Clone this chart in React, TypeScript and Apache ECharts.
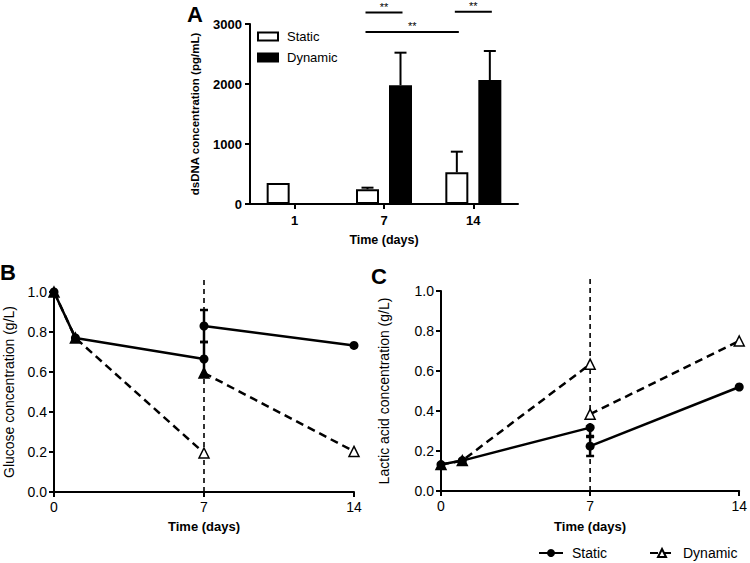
import React, { useEffect, useRef } from "react";
import * as echarts from "echarts";

const FONT = '"Liberation Sans", Arial, Helvetica, sans-serif';

// Panel A: dsDNA concentration
const days = ["1", "7", "14"];
const dnaStatic = [350, 245, 528];
const dnaStaticErr = [0, 27, 344];
const dnaDynamic: (number | string)[] = ["-", 1978, 2067];
const dnaDynamicErr = [0, 544, 483];

// significance brackets (panel A)
const sigFromDay = ["7", "7", "14"];
const sigFromGroup = ["Static", "Static", "Static"];
const sigToDay = ["7", "14", "14"];
const sigToGroup = ["Dynamic", "Static", "Dynamic"];
const sigLevel = [3190, 2867, 3205];
const sigLabel = ["**", "**", "**"];

// Panel B: glucose (g/L)
const glucoseStaticA = [[0, 1.0], [1, 0.77], [7, 0.665]];
const glucoseStaticB = [[7, 0.83], [14, 0.733]];
const glucoseDynamicA = [[0, 1.0], [1, 0.77], [7, 0.195]];
const glucoseDynamicB = [[7, 0.595], [14, 0.203]];
const glucoseErr = [[7, 0.75, 0.91], [7, 0.58, 0.75]];

// Panel C: lactic acid (g/L)
const lacticStaticA = [[0, 0.132], [1, 0.152], [7, 0.317]];
const lacticStaticB = [[7, 0.224], [14, 0.52]];
const lacticDynamicA = [[0, 0.132], [1, 0.152], [7, 0.634]];
const lacticDynamicB = [[7, 0.384], [14, 0.75]];
const lacticErr = [[7, 0.27, 0.317], [7, 0.175, 0.275]];

// reference (medium change) line
const refDay = 7;
const refTop = 1.06;

// style flags: which dynamic markers look filled
const glucoseDynAFilled = [true, true, false];
const glucoseDynBFilled = [true, false];
const lacticDynAFilled = [true, true, false];
const lacticDynBFilled = [false, false];

const BAR_W = 23;
const BAR_GAP_PX = 10;
const OFFSET = (BAR_W + BAR_GAP_PX) / 2;
const groupSign = (g: string) => (g === "Static" ? -1 : 1);

export default function App() {
  const ref = useRef<HTMLDivElement>(null);

  useEffect(() => {
    if (!ref.current) return;
    const chart = echarts.init(ref.current, undefined, { renderer: "svg" });

    const axisLine = { show: true, lineStyle: { color: "#000", width: 2 } };
    const axisTick = { show: true, inside: false, length: 5, lineStyle: { color: "#000", width: 2 } };

    const errBarSeries = (idx: number, data: number[][]) => ({
      type: "custom",
      xAxisIndex: idx,
      yAxisIndex: idx,
      clip: false,
      z: 3,
      data,
      encode: { x: 0, y: [1, 2] },
      renderItem: (params: any, api: any) => {
        const x = api.value(0);
        const p1 = api.coord([x, api.value(1)]);
        const p2 = api.coord([x, api.value(2)]);
        const c = 4;
        const st = { stroke: "#000", lineWidth: 2.5 };
        return {
          type: "group",
          children: [
            { type: "line", shape: { x1: p1[0], y1: p1[1], x2: p2[0], y2: p2[1] }, style: st },
            { type: "line", shape: { x1: p1[0] - c, y1: p1[1], x2: p1[0] + c, y2: p1[1] }, style: st },
            { type: "line", shape: { x1: p2[0] - c, y1: p2[1], x2: p2[0] + c, y2: p2[1] }, style: st },
          ],
        };
      },
    });

    const refLineSeries = (idx: number) => ({
      type: "custom",
      xAxisIndex: idx,
      yAxisIndex: idx,
      clip: false,
      z: 1,
      data: [[refDay, 0, refTop]],
      encode: { x: 0, y: [1, 2] },
      renderItem: (params: any, api: any) => {
        const p1 = api.coord([api.value(0), api.value(1)]);
        const p2 = api.coord([api.value(0), api.value(2)]);
        return {
          type: "line",
          shape: { x1: p1[0], y1: p1[1], x2: p2[0], y2: p2[1] },
          style: { stroke: "#000", lineWidth: 1.6, lineDash: [5, 4] },
        };
      },
    });

    const staticLine = (idx: number, data: number[][]) => ({
      name: "Static",
      type: "line",
      xAxisIndex: idx,
      yAxisIndex: idx,
      data,
      symbol: "circle",
      symbolSize: 9,
      z: 4,
      lineStyle: { color: "#000", width: 2.5, type: "solid" },
      itemStyle: { color: "#000", borderColor: "#000", borderWidth: 0 },
    });

    const dynamicLine = (idx: number, data: number[][], filled: boolean[]) => ({
      name: "Dynamic",
      type: "line",
      xAxisIndex: idx,
      yAxisIndex: idx,
      data: data.map((d, i) => ({
        value: d,
        itemStyle: { color: filled[i] ? "#000" : "#fff", borderColor: "#000", borderWidth: 1.5 },
      })),
      symbol: "triangle",
      symbolSize: 10,
      z: 5,
      lineStyle: { color: "#000", width: 2.5, type: [8, 5] },
      itemStyle: { color: "#fff", borderColor: "#000", borderWidth: 1.5 },
    });

    const lineXAxis = (idx: number, nameGap: number) => ({
      type: "value",
      gridIndex: idx,
      min: 0,
      max: 14,
      interval: 7,
      name: "Time (days)",
      nameLocation: "middle",
      nameGap,
      nameTextStyle: { fontFamily: FONT, fontSize: 13, fontWeight: "bold", color: "#000" },
      axisLine,
      axisTick,
      splitLine: { show: false },
      axisLabel: { fontFamily: FONT, fontSize: 14, color: "#000", margin: 8 },
    });

    const lineYAxis = (idx: number, name: string, nameGap: number) => ({
      type: "value",
      gridIndex: idx,
      min: 0,
      max: 1,
      interval: 0.2,
      name,
      nameLocation: "middle",
      nameGap,
      nameTextStyle: { fontFamily: FONT, fontSize: 14, color: "#000" },
      axisLine,
      axisTick,
      splitLine: { show: false },
      axisLabel: {
        fontFamily: FONT,
        fontSize: 14,
        color: "#000",
        margin: 7,
        formatter: (v: number) => v.toFixed(1),
      },
    });

    const option: any = {
      animation: false,
      backgroundColor: "#fff",
      textStyle: { fontFamily: FONT },
      graphic: [
        { type: "text", left: 187, top: 3, style: { text: "A", font: `bold 22px ${FONT}`, fill: "#000" } },
        { type: "text", left: 0, top: 261, style: { text: "B", font: `bold 22px ${FONT}`, fill: "#000" } },
        { type: "text", left: 371, top: 265, style: { text: "C", font: `bold 22px ${FONT}`, fill: "#000" } },
      ],
      legend: [
        {
          data: ["Static (A)", "Dynamic (A)"],
          orient: "vertical",
          left: 252,
          top: 25,
          itemWidth: 20,
          itemHeight: 8,
          itemGap: 8,
          selectedMode: false,
          icon: "rect",
          formatter: (n: string) => n.replace(" (A)", ""),
          textStyle: { fontFamily: FONT, fontSize: 13, color: "#000", padding: [0, 0, 0, 4] },
        },
        {
          data: ["Static", "Dynamic"],
          left: 533,
          top: 541,
          itemWidth: 24,
          itemHeight: 10,
          itemGap: 42,
          selectedMode: false,
          textStyle: { fontFamily: FONT, fontSize: 14, color: "#000", padding: [0, 0, 0, 4] },
        },
      ],
      grid: [
        { left: 250, top: 24, width: 268, height: 180 },
        { left: 54, top: 292, width: 300, height: 200 },
        { left: 441, top: 291, width: 301, height: 200 },
      ],
      xAxis: [
        {
          type: "category",
          gridIndex: 0,
          data: days,
          name: "Time (days)",
          nameLocation: "middle",
          nameGap: 29,
          nameTextStyle: { fontFamily: FONT, fontSize: 12.5, fontWeight: "bold", color: "#000" },
          axisLine,
          axisTick: { ...axisTick, alignWithLabel: true },
          axisLabel: { fontFamily: FONT, fontSize: 13, fontWeight: "bold", color: "#000", margin: 10 },
        },
        lineXAxis(1, 28),
        lineXAxis(2, 29),
      ],
      yAxis: [
        {
          type: "value",
          gridIndex: 0,
          min: 0,
          max: 3000,
          interval: 1000,
          name: "dsDNA concentration (pg/mL)",
          nameLocation: "middle",
          nameGap: 49,
          nameTextStyle: { fontFamily: FONT, fontSize: 11.5, fontWeight: "bold", color: "#000" },
          axisLine,
          axisTick,
          splitLine: { show: false },
          axisLabel: {
            fontFamily: FONT,
            fontSize: 13,
            fontWeight: "bold",
            color: "#000",
            margin: 8,
            formatter: (v: number) => String(v),
          },
        },
        lineYAxis(1, "Glucose concentration (g/L)", 38),
        lineYAxis(2, "Lactic acid concentration (g/L)", 50),
      ],
      series: [
        {
          name: "Static (A)",
          type: "bar",
          xAxisIndex: 0,
          yAxisIndex: 0,
          data: dnaStatic,
          barWidth: BAR_W,
          barGap: `${(BAR_GAP_PX / BAR_W) * 100}%`,
          itemStyle: { color: "#fff", borderColor: "#000", borderWidth: 2 },
        },
        {
          name: "Dynamic (A)",
          type: "bar",
          xAxisIndex: 0,
          yAxisIndex: 0,
          data: dnaDynamic,
          barWidth: BAR_W,
          barGap: `${(BAR_GAP_PX / BAR_W) * 100}%`,
          itemStyle: { color: "#000", borderColor: "#000", borderWidth: 2 },
        },
        {
          type: "custom",
          xAxisIndex: 0,
          yAxisIndex: 0,
          clip: false,
          z: 1,
          data: [
            ...days.map((d, i) => [i, dnaStatic[i], dnaStaticErr[i], -1]),
            ...days.map((d, i) => [i, dnaDynamic[i] === "-" ? 0 : dnaDynamic[i], dnaDynamicErr[i], 1]),
          ],
          encode: { x: 0, y: 1 },
          renderItem: (params: any, api: any) => {
            const err = api.value(2);
            if (!err || err <= 0) return { type: "group", children: [] };
            const cat = api.value(0);
            const v = api.value(1);
            const s = api.value(3);
            const p1 = api.coord([cat, v]);
            const p2 = api.coord([cat, v + err]);
            const x = p1[0] + s * OFFSET;
            const st = { stroke: "#000", lineWidth: 2 };
            return {
              type: "group",
              children: [
                { type: "line", shape: { x1: x, y1: p1[1], x2: x, y2: p2[1] }, style: st },
                { type: "line", shape: { x1: x - 6, y1: p2[1], x2: x + 6, y2: p2[1] }, style: st },
              ],
            };
          },
        },
        {
          type: "custom",
          xAxisIndex: 0,
          yAxisIndex: 0,
          clip: false,
          z: 5,
          data: sigLevel.map((lv, i) => [
            days.indexOf(sigFromDay[i]),
            groupSign(sigFromGroup[i]),
            days.indexOf(sigToDay[i]),
            groupSign(sigToGroup[i]),
            lv,
            i,
          ]),
          encode: { x: 0, y: 4 },
          renderItem: (params: any, api: any) => {
            const a = api.coord([api.value(0), api.value(4)]);
            const b = api.coord([api.value(2), api.value(4)]);
            const x1 = a[0] + api.value(1) * OFFSET - 2;
            const x2 = b[0] + api.value(3) * OFFSET + 2;
            const y = a[1];
            return {
              type: "group",
              children: [
                { type: "line", shape: { x1, y1: y, x2, y2: y }, style: { stroke: "#000", lineWidth: 2 } },
                {
                  type: "text",
                  x: (x1 + x2) / 2,
                  y: y,
                  style: {
                    text: sigLabel[api.value(5)],
                    font: `11px ${FONT}`,
                    fill: "#000",
                    align: "center",
                    verticalAlign: "bottom",
                  },
                },
              ],
            };
          },
        },
        // Panel B
        refLineSeries(1),
        errBarSeries(1, glucoseErr),
        staticLine(1, glucoseStaticA),
        staticLine(1, glucoseStaticB),
        dynamicLine(1, glucoseDynamicA, glucoseDynAFilled),
        dynamicLine(1, glucoseDynamicB, glucoseDynBFilled),
        // Panel C
        refLineSeries(2),
        errBarSeries(2, lacticErr),
        staticLine(2, lacticStaticA),
        staticLine(2, lacticStaticB),
        dynamicLine(2, lacticDynamicA, lacticDynAFilled),
        dynamicLine(2, lacticDynamicB, lacticDynBFilled),
      ],
    };

    chart.setOption(option);
    return () => chart.dispose();
  }, []);

  return <div ref={ref} style={{ width: 750, height: 563, position: "absolute", left: 0, top: 0 }} />;
}
